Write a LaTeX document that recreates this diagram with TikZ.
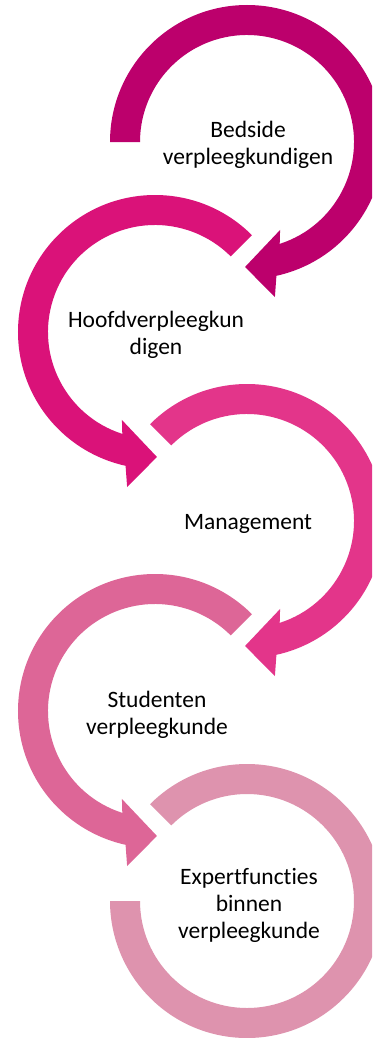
\documentclass[tikz,border=0pt]{standalone}
\usepackage{fontspec}
\setmainfont{Carlito}[RawFeature=-liga]
\definecolor{cA}{HTML}{BC006C}
\definecolor{cB}{HTML}{DA1279}
\definecolor{cC}{HTML}{E3358A}
\definecolor{cD}{HTML}{DD6697}
\definecolor{cE}{HTML}{DE93AE}
\newcommand{\cwArrow}[4]{%
  \fill[#1, shift={(#2pt,-#3pt)}] (#4:137pt) arc[start angle=#4,end angle=-77.6,radius=137pt]
    -- (-79.8:157.5pt) -- (-90.9:125pt) -- (-69.4:94pt) -- (-72.2:107pt)
    arc[start angle=-72.2,end angle=#4,radius=107pt] -- cycle;}
\newcommand{\ccwArrow}[4]{%
  \fill[#1, shift={(#2pt,-#3pt)}] (#4:137pt) arc[start angle=#4,end angle=257.6,radius=137pt]
    -- (259.8:157.5pt) -- (270.9:125pt) -- (249.4:94pt) -- (252.2:107pt)
    arc[start angle=252.2,end angle=#4,radius=107pt] -- cycle;}
\begin{document}
\begin{tikzpicture}[
  lbl/.style={align=center, text=black, font=\fontsize{23.5}{27}\selectfont, inner sep=0pt}]
\clip (0,-1038pt) rectangle (372pt,0);
\useasboundingbox (0,-1038pt) rectangle (372pt,0);
\fill[white] (0,-1038pt) rectangle (372pt,0);
\cwArrow{cA}{247}{142}{180}
\ccwArrow{cB}{155}{332}{45}
\cwArrow{cC}{247}{521}{135}
\ccwArrow{cD}{155}{711}{45}
\fill[cE, shift={(247pt,-901pt)}] (135:137pt) arc[start angle=135,end angle=-180,radius=137pt]
  -- (-180:107pt) arc[start angle=-180,end angle=135,radius=107pt] -- cycle;
\node[lbl] (t1) at (248pt,-145pt) {Bedside\\verpleegkundigen};
\node[lbl] (t2) at (156pt,-335pt) {Hoofdverpleegkun\\digen};
\node[lbl] (t3) at (248pt,-524pt) {Management};
\node[lbl] (t4) at (157pt,-715pt) {Studenten\\verpleegkunde};
\node[lbl] (t5) at (249pt,-905pt) {Expertfuncties\\binnen\\verpleegkunde};
\end{tikzpicture}
\end{document}
